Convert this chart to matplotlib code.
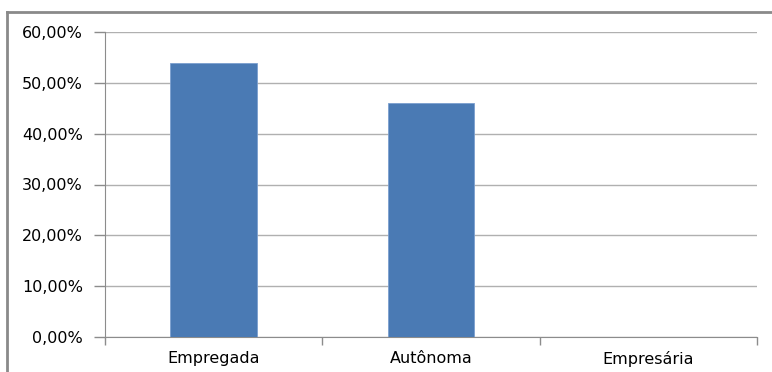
import matplotlib.pyplot as plt
from matplotlib.lines import Line2D
from matplotlib.ticker import FixedLocator

plt.rcParams['font.family'] = ['DejaVu Sans']

categorias = ['Empregada', 'Autônoma', 'Empresária']
valores = [54.0, 46.0, 0.0]
yticks = [0, 10, 20, 30, 40, 50, 60]
ytick_labels = ['0,00%', '10,00%', '20,00%', '30,00%', '40,00%', '50,00%', '60,00%']

cor_barra = '#4a7ab4'
cor_eixo = '#8c8c8c'

fig = plt.figure(figsize=(7.72, 3.72), dpi=100)
ax = fig.add_axes([105 / 772, 35 / 372, 652 / 772, 305 / 372])

x = list(range(len(categorias)))
ax.bar(x, valores, width=0.4, color=cor_barra, edgecolor='#7b9fcf', linewidth=0.6, zorder=3)

ax.set_xlim(-0.5, 2.5)
ax.set_ylim(0, 60)
ax.set_yticks(yticks)
ax.set_yticklabels(ytick_labels, fontsize=11.5)
ax.set_xticks(x)
ax.set_xticklabels(categorias, fontsize=11.5)
ax.tick_params(axis='x', which='major', length=0, pad=10)
ax.xaxis.set_minor_locator(FixedLocator([-0.5, 0.5, 1.5, 2.5]))
ax.tick_params(axis='x', which='minor', length=6, color=cor_eixo, width=1)
ax.tick_params(axis='y', length=8, color=cor_eixo, width=1, pad=8)

ax.yaxis.grid(True, color='#b0b0b0', linewidth=1, zorder=0)
ax.set_axisbelow(True)
for lado in ['top', 'right']:
    ax.spines[lado].set_visible(False)
ax.spines['left'].set_color(cor_eixo)
ax.spines['bottom'].set_color(cor_eixo)

# moldura externa do gráfico
fig.add_artist(Line2D([7 / 772, 7 / 772], [0, 1 - 12 / 372], transform=fig.transFigure,
                      color='#8a8a8a', linewidth=2))
fig.add_artist(Line2D([7 / 772, 1], [1 - 12 / 372, 1 - 12 / 372], transform=fig.transFigure,
                      color='#8a8a8a', linewidth=2))

fig.savefig('out.png', dpi=100)
